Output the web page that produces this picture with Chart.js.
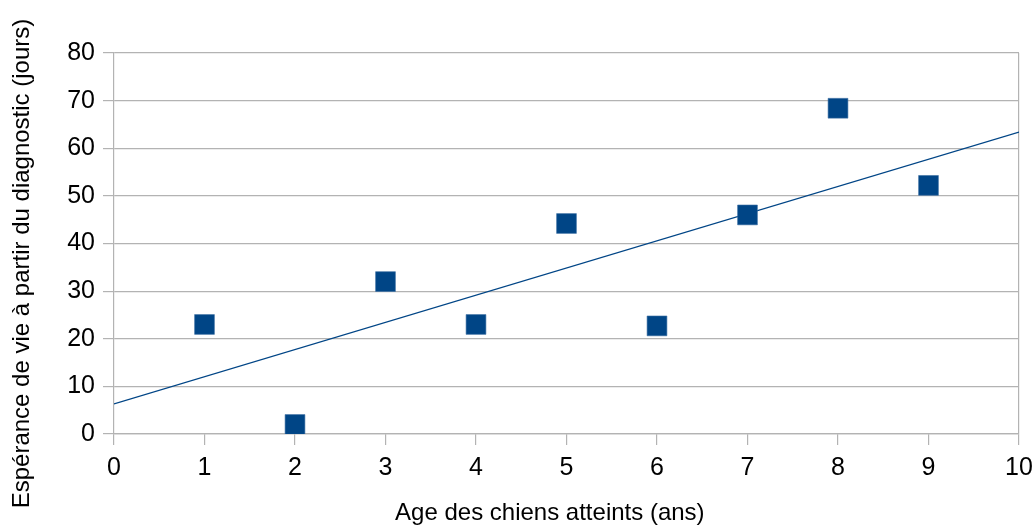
<!DOCTYPE html>
<html>
<head>
<meta charset="utf-8">
<script src="https://cdn.jsdelivr.net/npm/chart.js@4"></script>
<style>
  html, body { margin:0; padding:0; background:#fff; }
  #wrap { width:1035px; height:525px; }
</style>
</head>
<body>
<div id="wrap"><canvas id="chart"></canvas></div>
<script>
// DATA
const ages = [1, 2, 3, 4, 5, 6, 7, 8, 9];
const esperance = [23, 2, 32, 23, 44.2, 22.7, 46, 68.4, 52.2];
const trendX = [0, 10];
const trendY = [6.3, 63.4];
const xTicks = [0, 1, 2, 3, 4, 5, 6, 7, 8, 9, 10];
const yTicks = [0, 10, 20, 30, 40, 50, 60, 70, 80];

const blue = "#004586";
const gridGray = "#b3b3b3";
const font = "'Liberation Sans', Arial, sans-serif";

const ctx = document.getElementById("chart").getContext("2d");

new Chart(ctx, {
    type: "scatter",
    data: {
        datasets: [
            {
                label: "Espérance",
                data: ages.map((a, i) => ({ x: a, y: esperance[i] })),
                pointStyle: "rect",
                pointRadius: 14,
                pointHoverRadius: 14,
                backgroundColor: blue,
                borderColor: "#3b6ea3",
                borderWidth: 0.6,
                order: 1
            },
            {
                type: "line",
                label: "Tendance",
                data: trendX.map((x, i) => ({ x: x, y: trendY[i] })),
                borderColor: blue,
                borderWidth: 1.3,
                pointRadius: 0,
                fill: false,
                order: 2
            }
        ]
    },
    options: {
        responsive: true,
        maintainAspectRatio: false,
        animation: false,
        layout: { padding: { left: 0, right: 16, top: 53, bottom: 0 } },
        plugins: {
            legend: { display: false },
            tooltip: { enabled: false }
        },
        scales: {
            x: {
                type: "linear",
                min: 0,
                max: 10,
                afterBuildTicks: s => { s.ticks = xTicks.map(v => ({ value: v })); },
                afterFit: s => { s.height = 91; s.paddingRight = 0; s.paddingLeft = 0; },
                grid: {
                    color: c => (c.tick && c.tick.value === 10 ? gridGray : "rgba(0,0,0,0)"),
                    tickColor: gridGray,
                    tickLength: 11,
                    lineWidth: 1.2
                },
                border: { display: true, color: gridGray, width: 1.2 },
                ticks: {
                    color: "#000",
                    padding: 8,
                    font: { family: font, size: 25 }
                },
                title: {
                    display: true,
                    // trailing spaces shift the centred text left, as in the source
                    text: "Age des chiens atteints (ans)     ",
                    color: "#000",
                    font: { family: font, size: 24, lineHeight: 1 },
                    padding: { top: -3, bottom: 0 }
                }
            },
            y: {
                min: 0,
                max: 80,
                afterBuildTicks: s => { s.ticks = yTicks.map(v => ({ value: v })); },
                afterFit: s => { s.width = 114; s.paddingTop = 0; s.paddingBottom = 0; },
                grid: {
                    color: gridGray,
                    tickColor: gridGray,
                    tickLength: 11,
                    lineWidth: 1.2
                },
                border: { display: true, color: gridGray, width: 1.2 },
                ticks: {
                    color: "#000",
                    padding: 8,
                    font: { family: font, size: 25 }
                },
                title: {
                    display: true,
                    text: "Espérance de vie à partir du diagnostic (jours)      ",
                    color: "#000",
                    font: { family: font, size: 24, lineHeight: 1 },
                    padding: { top: 10, bottom: 0 }
                }
            }
        }
    }
});
</script>
</body>
</html>
